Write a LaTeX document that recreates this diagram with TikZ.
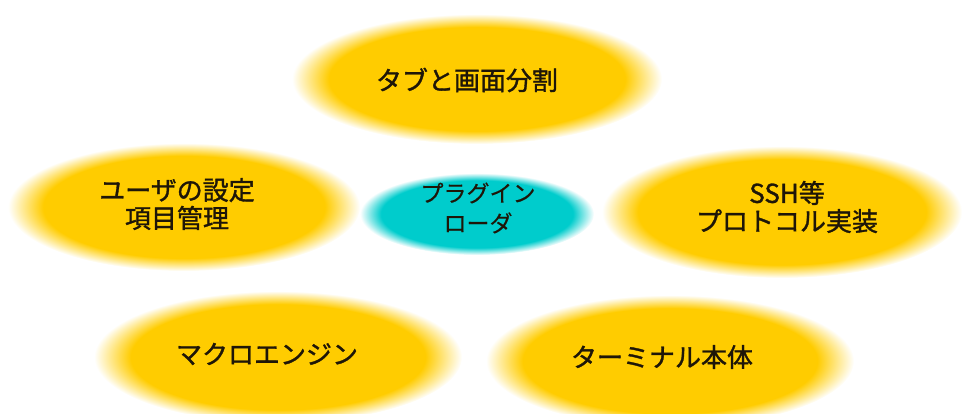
\documentclass[tikz,border=0pt]{standalone}
\usepackage{fontspec}
\newfontfamily\jp[FakeBold=0.4]{Noto Sans CJK JP}
\newfontfamily\jpb[FakeBold=1.3]{Noto Sans CJK JP}
\usetikzlibrary{shapes.geometric}
\definecolor{goldc}{HTML}{FFCC00}
\definecolor{cyanc}{HTML}{00CCCC}
\definecolor{inkc}{HTML}{1E1608}
\pgfdeclareradialshading{goldblur}{\pgfpoint{0bp}{0bp}}{color(0bp)=(goldc); color(20bp)=(goldc); color(25bp)=(white); color(50bp)=(white)}
\pgfdeclareradialshading{cyanblur}{\pgfpoint{0bp}{0bp}}{color(0bp)=(cyanc); color(20.5bp)=(cyanc); color(25bp)=(white); color(50bp)=(white)}
\tikzset{
  goldbox/.style={ellipse, inner sep=0pt, shading=goldblur, shade},
  goldtext/.style={inner sep=0pt, align=center,
    font=\jpb\fontsize{26}{28}\selectfont, text=inkc},
  cyanbox/.style={ellipse, inner sep=0pt, shading=cyanblur, shade,
    minimum width=234pt, minimum height=82pt},
  cyantext/.style={inner sep=0pt, align=center,
    font=\jp\fontsize{23}{30}\selectfont, text=inkc},
}
\begin{document}
\begin{tikzpicture}[x=1pt,y=-1pt]
\useasboundingbox (0,0) rectangle (962,414);
\clip (0,0) rectangle (962,414);
\node[goldbox, minimum width=370pt, minimum height=130pt] (tab) at (477,79) {};
\node[goldtext] (tabt) at (467,80) {タブと画面分割};
\node[goldbox, minimum width=352pt, minimum height=128pt] (user) at (184,207) {};
\node[goldtext] (usert) at (177,204) {ユーザの設定\\項目管理};
\node[goldbox, minimum width=360pt, minimum height=132pt] (ssh) at (782,212) {};
\node[goldtext] (ssht) at (787,207) {SSH等\\プロトコル実装};
\node[goldbox, minimum width=368pt, minimum height=132pt] (macro) at (278,357) {};
\node[goldtext] (macrot) at (267,354) {マクロエンジン};
\node[goldbox, minimum width=368pt, minimum height=132pt] (term) at (670,361) {};
\node[goldtext] (termt) at (662,357) {ターミナル本体};
\node[cyanbox] (plugin) at (477,214) {};
\node[cyantext] (plugint) at (478,208) {プラグイン\\ローダ};
\end{tikzpicture}
\end{document}
